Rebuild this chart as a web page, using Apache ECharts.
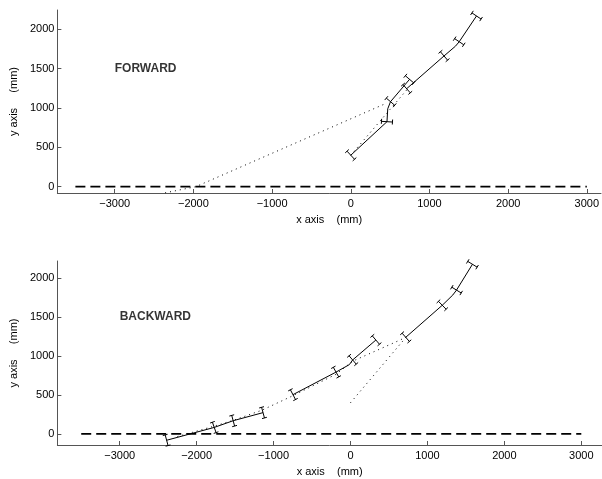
<!DOCTYPE html>
<html><head><meta charset="utf-8">
<script src="https://cdn.jsdelivr.net/npm/echarts@6/dist/echarts.min.js"></script>
<style>html,body{margin:0;padding:0;background:#fff;}#c{width:602px;height:479px;}</style>
</head><body><div id="c"></div><script>
// ---- tick labels ----
const xTicks = [-3000, -2000, -1000, 0, 1000, 2000, 3000];
const yTicks = [0, 500, 1000, 1500, 2000];
const groundLine = [[-3500, 0], [3000, 0]];

// ---- FORWARD panel (mm) ----
const fwdSegA = [[0, 400], [460, 826], [470, 990], [505, 1080], [747, 1364]];
const fwdSegAErr = [1, 1, 0, 1, 1];
const fwdSegB = [[710, 1245], [1185, 1661], [1330, 1785], [1378, 1842], [1598, 2169]];
const fwdSegBErr = [1, 1, 0, 1, 1];
const fwdDot1 = [[-2360, -78], [-1970, 0], [440, 1055]];
const fwdDot2 = [[0, 400], [720, 1240]];

// ---- BACKWARD panel (mm) ----
const bwdSeg1 = [[-2390, -82], [-1771, 83], [-1525, 169], [-1137, 273]];
const bwdSeg1Err = [1, 1, 1, 1];
const bwdSeg2 = [[-748, 504], [-188, 794], [-15, 890], [28, 950], [330, 1206]];
const bwdSeg2Err = [1, 1, 0, 1, 1];
const bwdSeg3 = [[718, 1241], [1193, 1653], [1330, 1785], [1378, 1848], [1585, 2180]];
const bwdSeg3Err = [1, 1, 0, 1, 1];
const bwdDotA = [[-2250, -35], [-1770, 100], [-1520, 175], [-1150, 305], [-750, 490], [-190, 765], [30, 935], [653, 1210], [720, 1245]];
const bwdDotB = [[0, 400], [720, 1240]];

const FONT = 'Liberation Sans, Arial, Helvetica, sans-serif';
const fmt = v => (v < 0 ? '\u2212' + Math.abs(v) : String(v));

function errData(pts, mask) {
  const out = [];
  pts.forEach((p, i) => {
    if (!mask[i]) return;
    let a, b;
    if (i < pts.length - 1) { a = pts[i]; b = pts[i + 1]; } else { a = pts[i - 1]; b = pts[i]; }
    out.push([p[0], p[1], a[0], a[1], b[0], b[1]]);
  });
  return out;
}

function errRender(params, api) {
  const p = api.coord([api.value(0), api.value(1)]);
  const a = api.coord([api.value(2), api.value(3)]);
  const b = api.coord([api.value(4), api.value(5)]);
  let dx = b[0] - a[0], dy = b[1] - a[1];
  const L = Math.hypot(dx, dy) || 1; dx /= L; dy /= L;
  const nx = -dy, ny = dx;
  const h = 5.5, c = 2.5;
  const e1 = [p[0] + nx * h, p[1] + ny * h], e2 = [p[0] - nx * h, p[1] - ny * h];
  const st = { stroke: '#000', lineWidth: 1, fill: null };
  return {
    type: 'group', children: [
      { type: 'line', shape: { x1: e1[0], y1: e1[1], x2: e2[0], y2: e2[1] }, style: st },
      { type: 'line', shape: { x1: e1[0] - dx * c, y1: e1[1] - dy * c, x2: e1[0] + dx * c, y2: e1[1] + dy * c }, style: st },
      { type: 'line', shape: { x1: e2[0] - dx * c, y1: e2[1] - dy * c, x2: e2[0] + dx * c, y2: e2[1] + dy * c }, style: st }
    ]
  };
}

function xAxisCfg(gi, min, max) {
  return {
    type: 'value', gridIndex: gi, min: min, max: max,
    name: 'x axis    (mm)', nameLocation: 'middle', nameGap: 21,
    nameTextStyle: { color: '#000', fontSize: 11, fontFamily: FONT },
    axisLine: { show: true, onZero: false, lineStyle: { color: '#555', width: 1 } },
    axisTick: { show: true, inside: true, length: 4, customValues: xTicks, lineStyle: { color: '#555' } },
    axisLabel: { customValues: xTicks, formatter: fmt, color: '#000', fontSize: 11, fontFamily: FONT, margin: 5 },
    splitLine: { show: false }
  };
}
function yAxisCfg(gi, min, max) {
  return {
    type: 'value', gridIndex: gi, min: min, max: max,
    name: 'y axis     (mm)', nameLocation: 'middle', nameGap: 35,
    nameTextStyle: { color: '#000', fontSize: 11, fontFamily: FONT },
    axisLine: { show: true, onZero: false, lineStyle: { color: '#555', width: 1 } },
    axisTick: { show: true, inside: true, length: 4, customValues: yTicks, lineStyle: { color: '#555' } },
    axisLabel: { customValues: yTicks, formatter: fmt, color: '#000', fontSize: 11, fontFamily: FONT, margin: 3 },
    splitLine: { show: false }
  };
}

function solid(gi, d) {
  return { type: 'line', xAxisIndex: gi, yAxisIndex: gi, data: d, symbol: 'none', silent: true,
    lineStyle: { color: '#000', width: 1 } };
}
function dotted(gi, d) {
  return { type: 'line', xAxisIndex: gi, yAxisIndex: gi, data: d, symbol: 'none', silent: true,
    lineStyle: { color: '#000', width: 1, type: [1, 4] } };
}
function dashed(gi) {
  return { type: 'line', xAxisIndex: gi, yAxisIndex: gi, data: groundLine, symbol: 'none', silent: true,
    lineStyle: { color: '#000', width: 1.7, type: [10, 5] } };
}
function errs(gi, pts, mask) {
  return { type: 'custom', xAxisIndex: gi, yAxisIndex: gi, data: errData(pts, mask), renderItem: errRender, silent: true };
}
function label(gi, text) {
  return { type: 'scatter', xAxisIndex: gi, yAxisIndex: gi, data: [[-3000, 1500]], symbolSize: 0, silent: true,
    label: { show: true, position: 'right', distance: 0, formatter: text, color: '#000', fontSize: 12, fontWeight: 'bold', fontFamily: FONT } };
}

const chart = echarts.init(document.getElementById('c'), null, { renderer: 'canvas' });
chart.setOption({
  animation: false,
  backgroundColor: '#fff',
  grid: [
    { left: 55, right: 0, top: 10, height: 183 },
    { left: 55, right: 0, top: 261, height: 184 }
  ],
  xAxis: [xAxisCfg(0, -3729, 3180), xAxisCfg(1, -3810, 3269)],
  yAxis: [yAxisCfg(0, -80, 2245), yAxisCfg(1, -143, 2222)],
  series: [
    dashed(0),
    dotted(0, fwdDot1), dotted(0, fwdDot2),
    solid(0, fwdSegA), solid(0, fwdSegB),
    errs(0, fwdSegA, fwdSegAErr), errs(0, fwdSegB, fwdSegBErr),
    label(0, 'FORWARD'),
    dashed(1),
    dotted(1, bwdDotA), dotted(1, bwdDotB),
    solid(1, bwdSeg1), solid(1, bwdSeg2), solid(1, bwdSeg3),
    errs(1, bwdSeg1, bwdSeg1Err), errs(1, bwdSeg2, bwdSeg2Err), errs(1, bwdSeg3, bwdSeg3Err),
    label(1, 'BACKWARD')
  ]
});
</script></body></html>
